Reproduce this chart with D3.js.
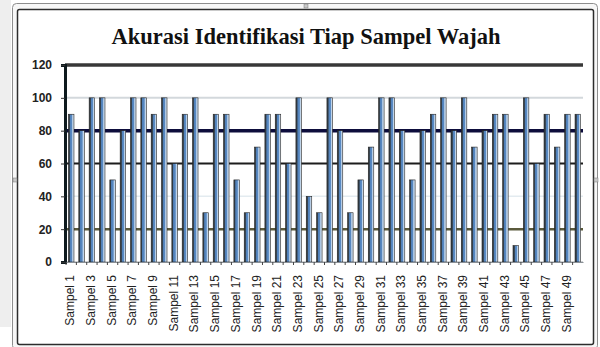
<!DOCTYPE html>
<html>
<head>
<meta charset="utf-8">
<script src="https://cdn.jsdelivr.net/npm/d3@7"></script>
<style>
  html, body { margin: 0; padding: 0; background: #ffffff; }
  svg { display: block; }
</style>
</head>
<body>
<svg id="chart" width="600" height="347"></svg>
<script>
// Accuracy per face sample (%)
const samples = [
  "Sampel 1","Sampel 2","Sampel 3","Sampel 4","Sampel 5","Sampel 6","Sampel 7","Sampel 8","Sampel 9","Sampel 10",
  "Sampel 11","Sampel 12","Sampel 13","Sampel 14","Sampel 15","Sampel 16","Sampel 17","Sampel 18","Sampel 19","Sampel 20",
  "Sampel 21","Sampel 22","Sampel 23","Sampel 24","Sampel 25","Sampel 26","Sampel 27","Sampel 28","Sampel 29","Sampel 30",
  "Sampel 31","Sampel 32","Sampel 33","Sampel 34","Sampel 35","Sampel 36","Sampel 37","Sampel 38","Sampel 39","Sampel 40",
  "Sampel 41","Sampel 42","Sampel 43","Sampel 44","Sampel 45","Sampel 46","Sampel 47","Sampel 48","Sampel 49","Sampel 50"
];
const accuracy = [
  90, 80, 100, 100, 50, 80, 100, 100, 90, 100,
  60, 90, 100, 30, 90, 90, 50, 30, 70, 90,
  90, 60, 100, 40, 30, 100, 80, 30, 50, 70,
  100, 100, 80, 50, 80, 90, 100, 80, 100, 70,
  80, 90, 90, 10, 100, 60, 90, 70, 90, 90
];
// Only every second category is labelled on the axis
const shownLabels = [
  "Sampel 1","Sampel 3","Sampel 5","Sampel 7","Sampel 9","Sampel 11","Sampel 13","Sampel 15","Sampel 17","Sampel 19",
  "Sampel 21","Sampel 23","Sampel 25","Sampel 27","Sampel 29","Sampel 31","Sampel 33","Sampel 35","Sampel 37","Sampel 39",
  "Sampel 41","Sampel 43","Sampel 45","Sampel 47","Sampel 49"
];
const yTicks = [0, 20, 40, 60, 80, 100, 120];
const title = "Akurasi Identifikasi Tiap Sampel Wajah";

const svg = d3.select("#chart");

// window surround
svg.append("rect").attr("x", 0).attr("y", 0).attr("width", 11).attr("height", 327).attr("fill", "#eeeeee");
svg.append("rect").attr("x", 12.5).attr("y", 3.5).attr("width", 585).attr("height", 346)
  .attr("rx", 4).attr("fill", "#f7f7f7").attr("stroke", "#8d8d8d");
svg.append("rect").attr("x", 17.5).attr("y", 9.5).attr("width", 576).attr("height", 335)
  .attr("rx", 2).attr("fill", "#ffffff").attr("stroke", "#2c2c2c").attr("stroke-width", 1.5);
// selection handles
[[306, 6], [15, 180], [596, 180]].forEach(([hx, hy]) => {
  svg.append("rect").attr("x", hx - 2).attr("y", hy - 2).attr("width", 4).attr("height", 4)
    .attr("fill", "#c9c9c9").attr("stroke", "#777").attr("stroke-width", 0.5);
});

svg.append("text")
  .attr("x", 306).attr("y", 44)
  .attr("text-anchor", "middle")
  .attr("font-family", "'Liberation Serif', 'DejaVu Serif', serif")
  .attr("font-weight", "bold")
  .attr("font-size", 22.5)
  .attr("fill", "#111")
  .text(title);

const plot = { left: 65, right: 583, top: 65, bottom: 262 };

const x = d3.scaleBand()
  .domain(samples)
  .range([plot.left + 1, plot.right])
  .paddingInner(0.47)
  .paddingOuter(0.24);

const y = d3.scaleLinear().domain([0, 120]).range([plot.bottom, plot.top]);

// gridlines, each level drawn with its own stroke
const gridStyle = {
  0:   { c: "#9aa0a6", w: 1 },
  20:  { c: "#5b5a3c", w: 2.5 },
  40:  { c: "#e3ebf0", w: 1.5 },
  60:  { c: "#1c1c1c", w: 2 },
  80:  { c: "#0d0d3c", w: 3.5 },
  100: { c: "#d3d8dc", w: 2 },
  120: { c: "#383838", w: 3.5 }
};
svg.append("g").selectAll("line")
  .data(yTicks)
  .join("line")
  .attr("x1", plot.left).attr("x2", plot.right)
  .attr("y1", d => y(d)).attr("y2", d => y(d))
  .attr("stroke", d => gridStyle[d].c)
  .attr("stroke-width", d => gridStyle[d].w);

// bar shading
const defs = svg.append("defs");
const grad = defs.append("linearGradient").attr("id", "barFill")
  .attr("x1", "0%").attr("x2", "100%").attr("y1", "0%").attr("y2", "0%");
[["0%", "#2e3438"], ["28%", "#3a4a5a"], ["30%", "#4f7fb8"], ["65%", "#5a8bc4"], ["70%", "#a9c4e2"], ["100%", "#dbe7f3"]]
  .forEach(([o, c]) => grad.append("stop").attr("offset", o).attr("stop-color", c));

svg.append("g").selectAll("rect")
  .data(samples.map((s, i) => ({ s, v: accuracy[i] })))
  .join("rect")
  .attr("x", d => x(d.s))
  .attr("y", d => y(d.v))
  .attr("width", x.bandwidth())
  .attr("height", d => y(0) - y(d.v))
  .attr("fill", "url(#barFill)")
  .attr("stroke", "#222")
  .attr("stroke-width", 0.6);

// y axis
const yAxis = svg.append("g")
  .attr("transform", `translate(${plot.left},0)`)
  .call(d3.axisLeft(y).tickValues(yTicks).tickSize(4).tickPadding(9));
yAxis.select(".domain").attr("stroke", "#0e1a1e").attr("stroke-width", 3);
yAxis.selectAll(".tick line").attr("stroke", "#333");
yAxis.selectAll("text")
  .attr("font-family", "'Liberation Sans', Arial, sans-serif")
  .attr("font-size", 12)
  .attr("font-weight", "bold")
  .attr("fill", "#222");

// x axis: tick marks between categories, labels on alternate samples
const xAxis = svg.append("g")
  .attr("transform", `translate(0,${plot.bottom})`)
  .call(d3.axisBottom(x).tickValues(shownLabels).tickSize(0).tickPadding(0));
xAxis.select(".domain").attr("stroke", "#8a9096").attr("stroke-width", 1);
xAxis.selectAll(".tick text")
  .attr("font-family", "'Liberation Sans', Arial, sans-serif")
  .attr("font-size", 12)
  .attr("fill", "#222")
  .attr("text-anchor", "end")
  .attr("dy", "0.35em")
  .attr("transform", "translate(-1,13) rotate(-90)")
  .attr("x", 0).attr("y", 0);

svg.append("g").selectAll("line")
  .data(samples)
  .join("line")
  .attr("x1", d => x(d) - x.step() * x.paddingInner() / 2)
  .attr("x2", d => x(d) - x.step() * x.paddingInner() / 2)
  .attr("y1", plot.bottom).attr("y2", plot.bottom + 3)
  .attr("stroke", "#444");
</script>
</body>
</html>
